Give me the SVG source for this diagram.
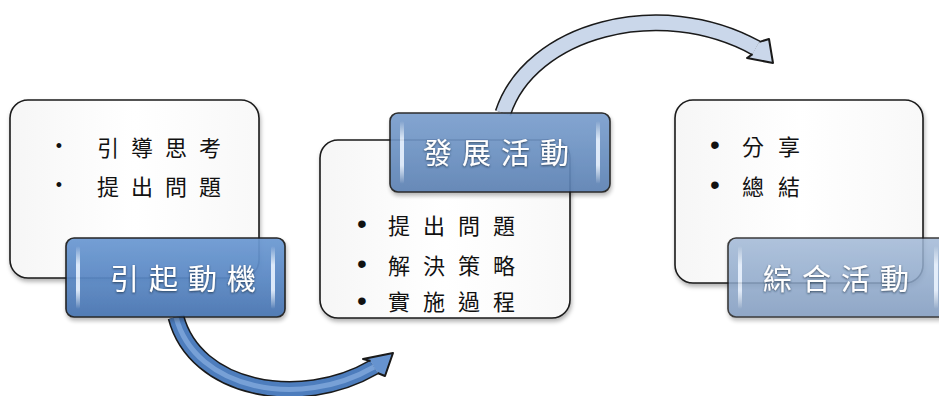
<svg xmlns="http://www.w3.org/2000/svg" width="939" height="396" viewBox="0 0 939 396">
<defs>
<style>
.box{fill:url(#boxg);stroke:#1a1a1a;stroke-width:1.6}
.lab{stroke:#1a1a1a;stroke-width:1.6}
.hl{fill:url(#hlg)}
.lt{font-family:"Noto Sans CJK TC","Noto Sans CJK SC",sans-serif;font-size:29px;fill:#ffffff;letter-spacing:10px;dominant-baseline:central;filter:url(#ts)}
.bt{font-family:"Noto Sans CJK TC","Noto Sans CJK SC",sans-serif;font-size:22px;fill:#111;dominant-baseline:central}
.bl{font-family:"Liberation Sans",sans-serif;fill:#111;dominant-baseline:central}
.out{fill:none;stroke:#1a1a1a;stroke-width:17}
</style>
<linearGradient id="boxg" x1="0" y1="0" x2="1" y2="0">
<stop offset="0" stop-color="#f6f6f6"/><stop offset="0.5" stop-color="#ffffff"/><stop offset="1" stop-color="#f8f8f8"/>
</linearGradient>
<linearGradient id="lg1" x1="0" y1="0" x2="0" y2="1">
<stop offset="0" stop-color="#6d9ad3"/><stop offset="0.5" stop-color="#5a88c4"/><stop offset="1" stop-color="#4874b0"/>
</linearGradient>
<linearGradient id="lg2" x1="0" y1="0" x2="0" y2="1">
<stop offset="0" stop-color="#7a9ecd"/><stop offset="0.5" stop-color="#6a90c1"/><stop offset="1" stop-color="#5b80b2"/>
</linearGradient>
<linearGradient id="lg3" x1="0" y1="0" x2="0" y2="1">
<stop offset="0" stop-color="#a2b9d7"/><stop offset="0.5" stop-color="#8fa9cb"/><stop offset="1" stop-color="#7d98bd"/>
</linearGradient>
<linearGradient id="hlg" x1="0" y1="0" x2="0" y2="1">
<stop offset="0" stop-color="#ffffff" stop-opacity="0"/><stop offset="0.3" stop-color="#e8f2ff" stop-opacity="0.9"/><stop offset="0.7" stop-color="#e8f2ff" stop-opacity="0.9"/><stop offset="1" stop-color="#ffffff" stop-opacity="0"/>
</linearGradient>
<filter id="sh" x="-10%" y="-10%" width="130%" height="140%">
<feDropShadow dx="1" dy="3" stdDeviation="2" flood-color="#000" flood-opacity="0.3"/>
</filter>
<filter id="ts" x="-10%" y="-20%" width="120%" height="140%">
<feDropShadow dx="0" dy="1" stdDeviation="1" flood-color="#1a2a40" flood-opacity="0.8"/>
</filter>
</defs>

<g id="connectors">
<g id="arrow1">
<path class="out" d="M176,317 C195,390 300,410 374,367"/>
<path d="M176,317 C195,390 300,410 374,367" fill="none" stroke="#4d7dbd" stroke-width="14"/>
<path d="M176,317 C195,390 300,410 374,367" fill="none" stroke="#82a9dc" stroke-width="5" stroke-opacity="0.8"/>
<path d="M370.5,361 L363,359 L393,353 L385,376 L377.5,373" fill="#6693cf" stroke="#1a1a1a" stroke-width="2" stroke-linejoin="round"/>
</g>
<g id="arrow2">
<path class="out" d="M503,113 C530,30 660,-5 756,48"/>
<path d="M503,113 C530,30 660,-5 756,48" fill="none" stroke="#cad7ea" stroke-width="14"/>
<path d="M759.4,41.9 L769,39 L773,63 L747,58 L752.6,54.1" fill="#cad7ea" stroke="#1a1a1a" stroke-width="2" stroke-linejoin="round"/>
</g>
</g>

<g id="node1">
<rect class="box" x="10" y="100" width="249" height="178" rx="18" filter="url(#sh)"/>
<text class="bl" x="59" y="146" font-size="18" text-anchor="middle">•</text>
<text class="bt" x="97" y="146" letter-spacing="12">引導思考</text>
<text class="bl" x="59" y="184.5" font-size="18" text-anchor="middle">•</text>
<text class="bt" x="97" y="184.5" letter-spacing="12">提出問題</text>
<g opacity="0.94" filter="url(#sh)">
<rect class="lab" x="66" y="238" width="219" height="79" rx="8" fill="url(#lg1)"/>
<rect class="hl" x="76" y="246" width="4" height="63" rx="2"/>
<rect class="hl" x="271" y="246" width="4" height="63" rx="2"/>
</g>
<text class="lt" x="110" y="277">引起動機</text>
</g>

<g id="node2">
<rect class="box" x="320" y="140" width="250" height="178" rx="18" filter="url(#sh)"/>
<text class="bl" x="362" y="223.5" font-size="28" text-anchor="middle">•</text>
<text class="bt" x="388" y="223.5" font-size="23" letter-spacing="13">提出問題</text>
<text class="bl" x="362" y="263.5" font-size="28" text-anchor="middle">•</text>
<text class="bt" x="388" y="263.5" font-size="23" letter-spacing="13">解決策略</text>
<text class="bl" x="362" y="300" font-size="28" text-anchor="middle">•</text>
<text class="bt" x="388" y="300" font-size="23" letter-spacing="13">實施過程</text>
<g opacity="0.92" filter="url(#sh)">
<rect class="lab" x="390" y="113" width="220" height="79" rx="8" fill="url(#lg2)"/>
<rect class="hl" x="400" y="121" width="4" height="63" rx="2"/>
<rect class="hl" x="596" y="121" width="4" height="63" rx="2"/>
</g>
<text class="lt" x="423" y="151">發展活動</text>
</g>

<g id="node3">
<rect class="box" x="675" y="100" width="248" height="183" rx="18" filter="url(#sh)"/>
<text class="bl" x="715" y="144.5" font-size="28" text-anchor="middle">•</text>
<text class="bt" x="742" y="144.5" font-size="23" letter-spacing="14">分享</text>
<text class="bl" x="715" y="184.5" font-size="28" text-anchor="middle">•</text>
<text class="bt" x="742" y="184.5" font-size="23" letter-spacing="14">總結</text>
<g opacity="0.85" filter="url(#sh)">
<rect class="lab" x="728" y="238" width="220" height="79" rx="8" fill="url(#lg3)"/>
<rect class="hl" x="738" y="246" width="4" height="63" rx="2"/>
<rect class="hl" x="934" y="246" width="4" height="63" rx="2"/>
</g>
<text class="lt" x="763" y="277">綜合活動</text>
</g>
</svg>
